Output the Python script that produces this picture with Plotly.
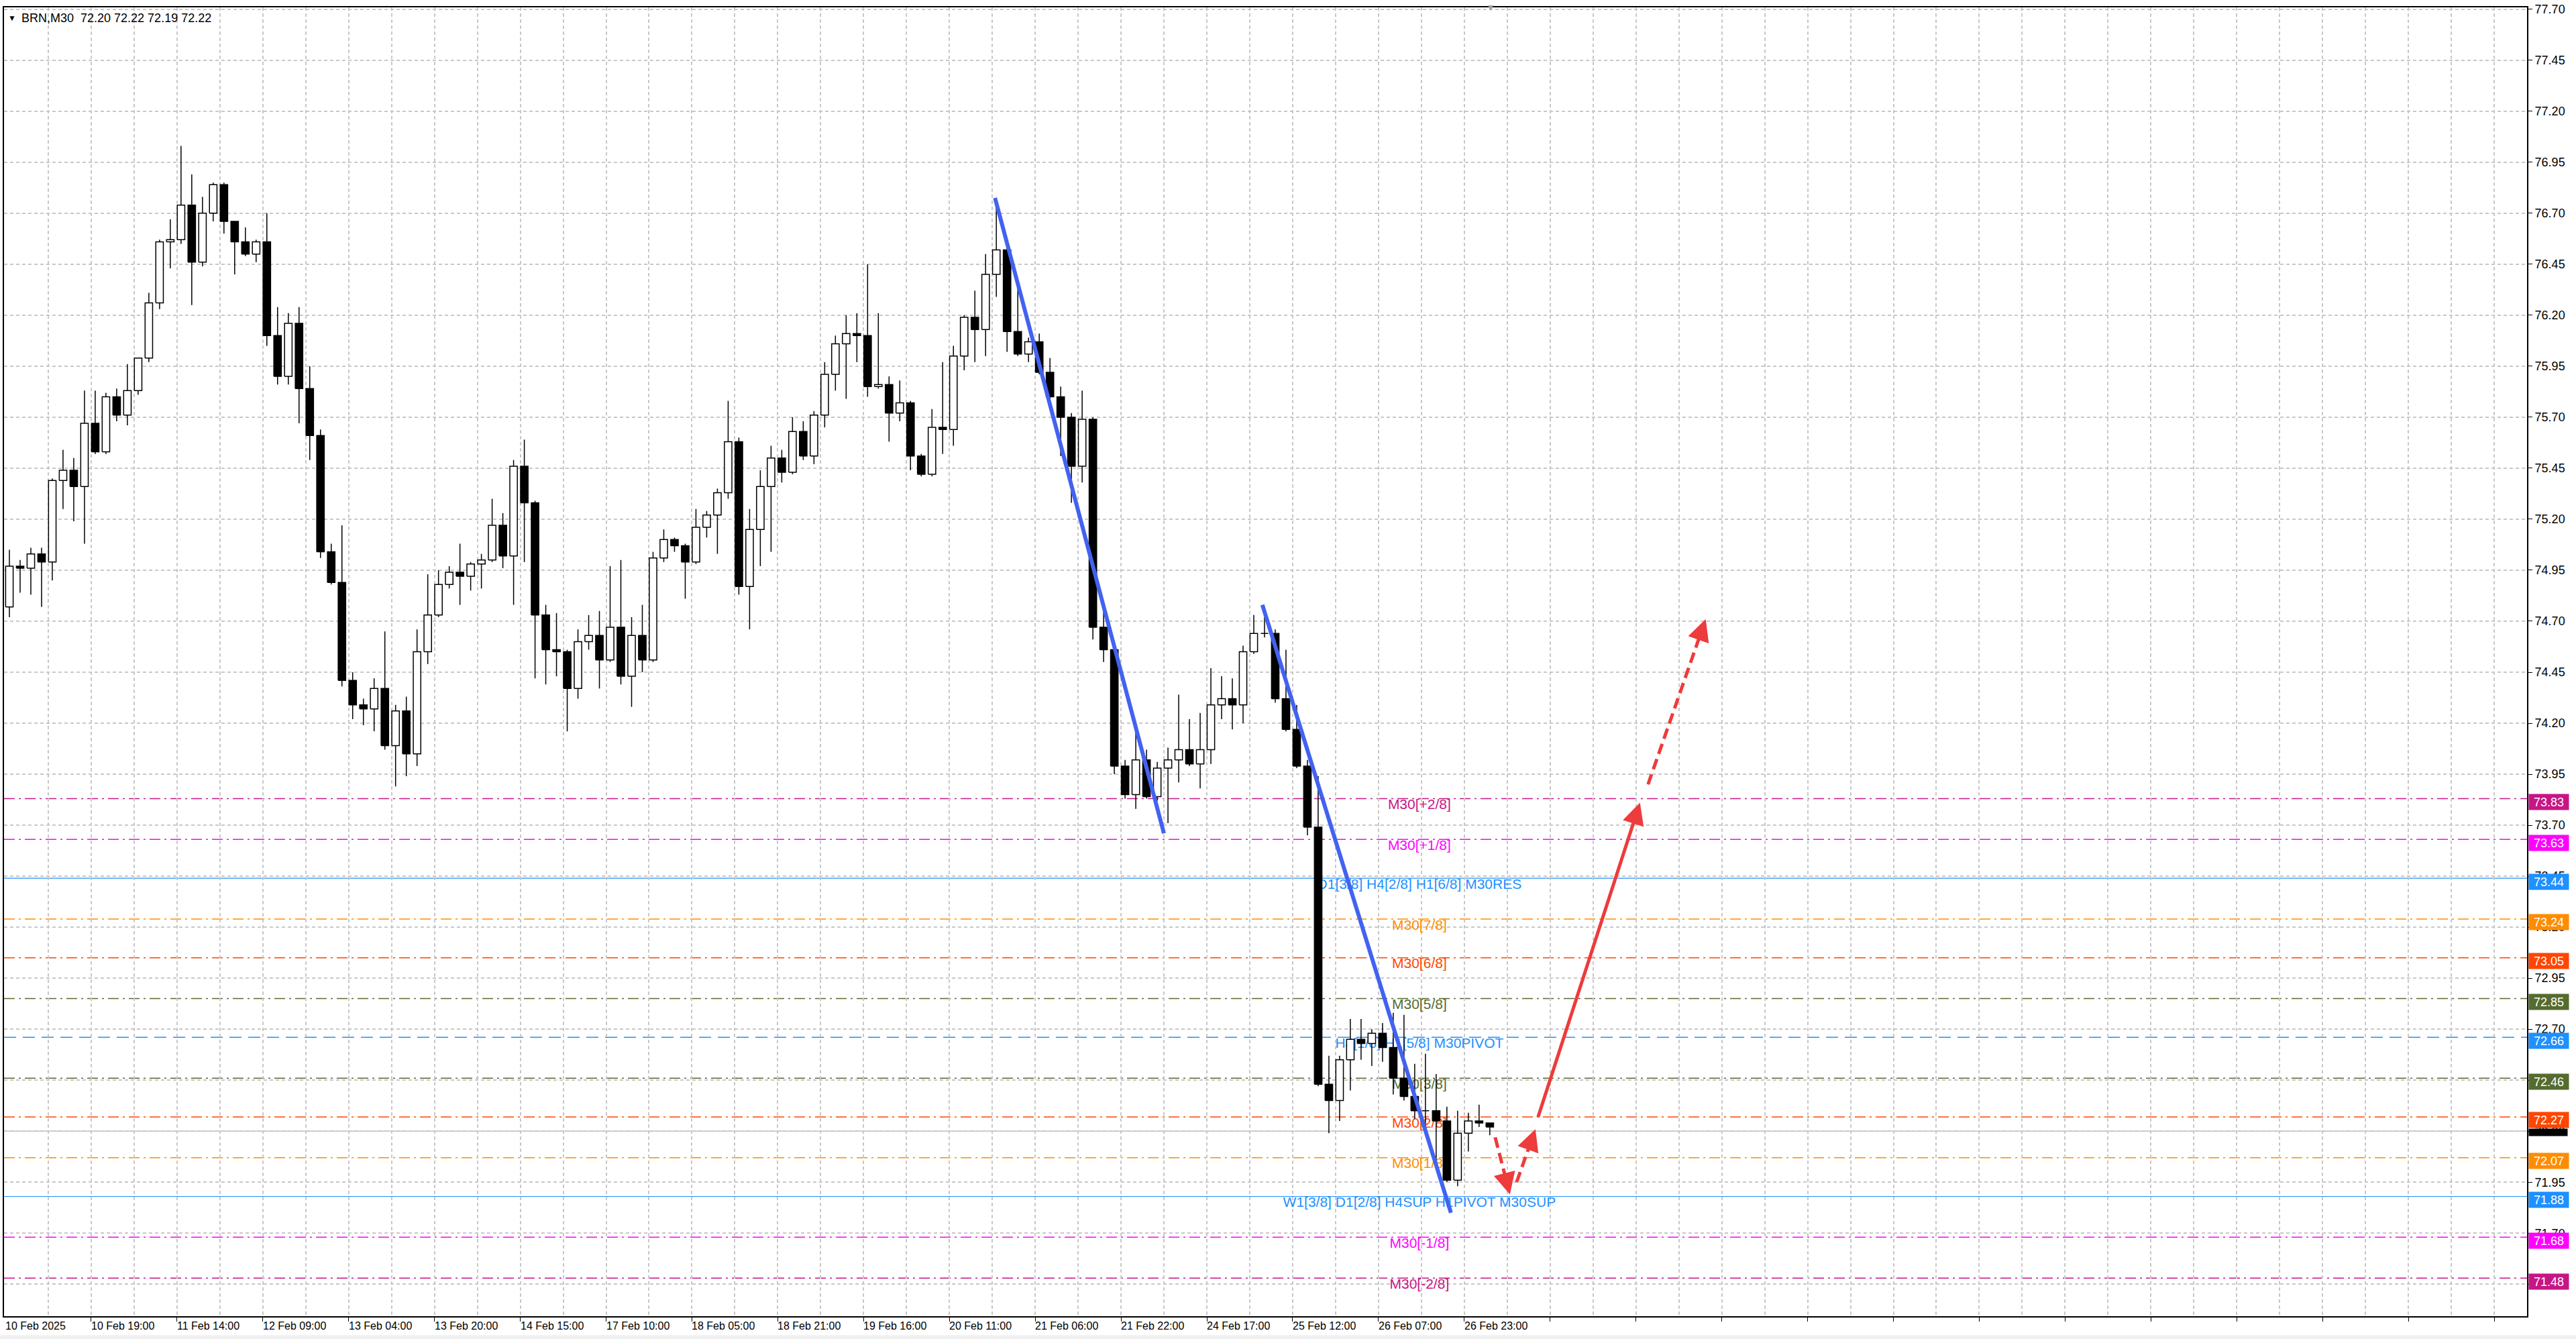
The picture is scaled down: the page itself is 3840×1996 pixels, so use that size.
import plotly.graph_objects as go

# BRN M30 chart - candles, grouped by 2 hours (4 M30 bars each)

title_text = "BRN,M30  72.20 72.22 72.19 72.22"

opens = [74.77, 74.97, 74.96, 75.03, 74.99, 75.39, 75.44, 75.36, 75.67, 75.53,
         75.80, 75.71, 75.83, 75.99, 76.26, 76.56, 76.57, 76.74, 76.46, 76.70,
         76.84, 76.66, 76.56, 76.50, 76.56, 76.10, 75.90, 76.16, 75.84, 75.61,
         75.04, 74.89, 74.41, 74.29, 74.27, 74.37, 74.09, 74.26, 74.05, 74.55,
         74.73, 74.88, 74.94, 74.92, 74.98, 75.00, 75.17, 75.02, 75.46, 75.28,
         74.73, 74.56, 74.55, 74.37, 74.60, 74.63, 74.51, 74.67, 74.43, 74.63,
         74.51, 75.01, 75.10, 75.07, 74.99, 75.16, 75.22, 75.33, 75.58, 74.87,
         75.15, 75.36, 75.50, 75.43, 75.63, 75.51, 75.71, 75.91, 76.06, 76.11,
         76.10, 75.85, 75.86, 75.72, 75.77, 75.51, 75.42, 75.65, 75.64, 76.00,
         76.19, 76.13, 76.40, 76.52, 76.12, 76.01, 76.07, 75.92, 75.80, 75.70,
         75.46, 75.69, 74.67, 74.56, 73.99, 73.85, 74.02, 73.84, 73.98, 74.02,
         74.07, 74.00, 74.07, 74.29, 74.32, 74.29, 74.55, 74.64, 74.64, 74.32,
         74.17, 73.99, 73.69, 72.43, 72.35, 72.55, 72.65, 72.63, 72.68, 72.61,
         72.46, 72.37, 72.30, 72.30, 72.25, 71.96, 72.19, 72.25, 72.24]
highs = [75.05, 75.00, 75.06, 75.06, 75.40, 75.54, 75.50, 75.83, 75.83, 75.82,
         75.84, 75.96, 75.99, 76.31, 76.57, 76.67, 77.03, 76.89, 76.78, 76.85,
         76.85, 76.66, 76.63, 76.57, 76.70, 76.24, 76.21, 76.24, 75.95, 75.64,
         75.08, 75.17, 74.45, 74.32, 74.42, 74.65, 74.29, 74.33, 74.66, 74.93,
         74.95, 74.97, 75.08, 74.99, 75.03, 75.30, 75.23, 75.49, 75.59, 75.29,
         74.78, 74.74, 74.56, 74.66, 74.73, 74.75, 74.97, 75.00, 74.72, 74.78,
         75.04, 75.15, 75.11, 75.08, 75.25, 75.24, 75.35, 75.78, 75.60, 75.25,
         75.44, 75.56, 75.54, 75.70, 75.68, 75.73, 75.97, 76.10, 76.20, 76.21,
         76.45, 76.21, 75.90, 75.88, 75.78, 75.52, 75.74, 75.97, 76.05, 76.20,
         76.32, 76.50, 76.75, 76.53, 76.34, 76.09, 76.11, 75.99, 75.85, 75.72,
         75.83, 75.70, 74.78, 74.57, 74.02, 74.19, 74.07, 74.01, 74.08, 74.34,
         74.22, 74.25, 74.47, 74.43, 74.42, 74.58, 74.73, 74.72, 74.66, 74.56,
         74.29, 74.02, 73.94, 72.57, 72.57, 72.75, 72.75, 72.70, 72.73, 72.78,
         72.77, 72.53, 72.58, 72.48, 72.32, 72.30, 72.29, 72.33, 72.24]
lows = [74.72, 74.84, 74.83, 74.77, 74.90, 75.25, 75.19, 75.08, 75.52, 75.52,
        75.68, 75.66, 75.81, 75.97, 76.23, 76.43, 76.55, 76.25, 76.44, 76.66,
        76.60, 76.40, 76.49, 76.46, 76.05, 75.86, 75.86, 75.67, 75.49, 75.01,
        74.88, 74.38, 74.22, 74.19, 74.16, 74.07, 73.89, 73.94, 73.99, 74.49,
        74.72, 74.86, 74.78, 74.85, 74.86, 74.99, 74.96, 74.78, 74.99, 74.42,
        74.39, 74.43, 74.16, 74.32, 74.56, 74.37, 74.50, 74.39, 74.28, 74.45,
        74.50, 74.99, 75.04, 74.81, 74.98, 75.11, 75.03, 75.30, 74.83, 74.66,
        74.97, 75.04, 75.38, 75.42, 75.49, 75.47, 75.65, 75.83, 75.79, 75.97,
        75.80, 75.84, 75.58, 75.68, 75.44, 75.41, 75.41, 75.52, 75.56, 75.93,
        75.97, 76.00, 76.29, 76.02, 76.00, 75.97, 75.91, 75.79, 75.51, 75.28,
        75.38, 74.61, 74.50, 73.95, 73.83, 73.78, 73.83, 73.82, 73.71, 73.91,
        73.99, 73.88, 74.00, 74.22, 74.17, 74.20, 74.54, 74.62, 74.30, 74.16,
        73.98, 73.65, 72.42, 72.19, 72.25, 72.40, 72.55, 72.52, 72.54, 72.38,
        72.35, 72.26, 72.20, 72.05, 71.95, 71.93, 72.10, 72.22, 72.18]
closes = [74.97, 74.96, 75.03, 74.99, 75.39, 75.44, 75.36, 75.67, 75.53, 75.80,
          75.71, 75.83, 75.99, 76.26, 76.56, 76.57, 76.74, 76.46, 76.70, 76.84,
          76.66, 76.56, 76.50, 76.56, 76.10, 75.90, 76.16, 75.84, 75.61, 75.04,
          74.89, 74.41, 74.29, 74.27, 74.37, 74.09, 74.26, 74.05, 74.55, 74.73,
          74.88, 74.94, 74.92, 74.98, 75.00, 75.17, 75.02, 75.46, 75.28, 74.73,
          74.56, 74.55, 74.37, 74.60, 74.63, 74.51, 74.67, 74.43, 74.63, 74.51,
          75.01, 75.10, 75.07, 74.99, 75.16, 75.22, 75.33, 75.58, 74.87, 75.15,
          75.36, 75.50, 75.43, 75.63, 75.51, 75.71, 75.91, 76.06, 76.11, 76.10,
          75.85, 75.86, 75.72, 75.77, 75.51, 75.42, 75.65, 75.64, 76.00, 76.19,
          76.13, 76.40, 76.52, 76.12, 76.01, 76.07, 75.92, 75.80, 75.70, 75.46,
          75.69, 74.67, 74.56, 73.99, 73.85, 74.02, 73.84, 73.98, 74.02, 74.07,
          74.00, 74.07, 74.29, 74.32, 74.29, 74.55, 74.64, 74.64, 74.32, 74.17,
          73.99, 73.69, 72.43, 72.35, 72.55, 72.65, 72.63, 72.68, 72.61, 72.46,
          72.37, 72.30, 72.30, 72.25, 71.96, 72.19, 72.25, 72.24, 72.22]

# one label every 32 M30 bars
time_labels = ["10 Feb 2025", "10 Feb 19:00", "11 Feb 14:00", "12 Feb 09:00", "13 Feb 04:00",
               "13 Feb 20:00", "14 Feb 15:00", "17 Feb 10:00", "18 Feb 05:00", "18 Feb 21:00",
               "19 Feb 16:00", "20 Feb 11:00", "21 Feb 06:00", "21 Feb 22:00", "24 Feb 17:00",
               "25 Feb 12:00", "26 Feb 07:00", "26 Feb 23:00"]

level_prices = [73.83, 73.63, 73.44, 73.24, 73.05, 72.85, 72.66, 72.46, 72.27, 72.07, 71.88, 71.68, 71.48]
level_names = ["M30[+2/8]", "M30[+1/8]", "D1[3/8] H4[2/8] H1[6/8] M30RES", "M30[7/8]", "M30[6/8]",
               "M30[5/8]", "H4[1/8] H1[5/8] M30PIVOT", "M30[3/8]", "M30[2/8]", "M30[1/8]",
               "W1[3/8] D1[2/8] H4SUP H1PIVOT M30SUP", "M30[-1/8]", "M30[-2/8]"]
level_colors = ["#C71585", "#FF00FF", "#1E90FF", "#FF8C00", "#FF4500", "#556B2F", "#1E90FF",
                "#556B2F", "#FF4500", "#FF8C00", "#1E90FF", "#FF00FF", "#C71585"]
level_styles = ["dashdot", "dashdot", "solid", "dashdot", "dashdot", "dashdot", "dash",
                "dashdot", "dashdot", "dashdot", "solid", "dashdot", "dashdot"]

bid_price = 72.20

# blue trend lines (bar index, price)
trend_a_x = [369, 432]
trend_a_y = [76.775, 73.66]
trend_b_x = [468.7, 539]
trend_b_y = [74.78, 71.80]

# red forecast arrows: start x, start y, tip x, tip y, dashed
arrows = [
    (555.5, 72.17, 561.0, 71.89, True),
    (563.5, 71.95, 570.5, 72.21, True),
    (571.5, 72.27, 609.5, 73.81, False),
    (612.5, 73.90, 634.0, 74.71, True),
]

PX_PER_BAR = 4.0
PX_PER_PRICE = 305.2
RED = "#EE3B3B"
BLUE = "#4262F0"
FONT = "Liberation Sans, Arial, sans-serif"

fig = go.Figure()

# level captions first so the candles sit on top of them
fig.add_trace(go.Scatter(
    x=[527.25] * len(level_prices), y=level_prices, mode="text", text=level_names,
    textposition="bottom center", textfont=dict(family=FONT, size=21, color=level_colors),
    hoverinfo="skip"))

# candles: wicks, then bodies
centers = [4 * i + 1.5 for i in range(len(opens))]
half = 1.4
wx, wy = [], []
up_x, up_y, dn_x, dn_y = [], [], [], []
for c, o, h, l, cl in zip(centers, opens, highs, lows, closes):
    wx += [c, c, None]
    wy += [l, h, None]
    lo, hi = min(o, cl), max(o, cl)
    bx = [c - half, c + half, c + half, c - half, c - half, None]
    by = [lo, lo, hi, hi, lo, None]
    if cl >= o:
        up_x += bx
        up_y += by
    else:
        dn_x += bx
        dn_y += by

fig.add_trace(go.Scatter(x=wx, y=wy, mode="lines", line=dict(color="black", width=1.5),
                         hoverinfo="skip"))
fig.add_trace(go.Scatter(x=up_x, y=up_y, mode="lines", fill="toself", fillcolor="white",
                         line=dict(color="black", width=1.5), hoverinfo="skip"))
fig.add_trace(go.Scatter(x=dn_x, y=dn_y, mode="lines", fill="toself", fillcolor="black",
                         line=dict(color="black", width=1.5), hoverinfo="skip"))

# trend lines
for tx, ty in [(trend_a_x, trend_a_y), (trend_b_x, trend_b_y)]:
    fig.add_trace(go.Scatter(x=tx, y=ty, mode="lines", line=dict(color=BLUE, width=6),
                             hoverinfo="skip"))

annotations = []

# forecast arrows
for x0, y0, x1, y1, dashed in arrows:
    dx = (x1 - x0) * PX_PER_BAR
    dy = (y1 - y0) * PX_PER_PRICE
    length = (dx * dx + dy * dy) ** 0.5
    back = 14.0 / length
    tail_x = x1 - (x1 - x0) * back
    tail_y = y1 - (y1 - y0) * back
    fig.add_trace(go.Scatter(x=[x0, tail_x], y=[y0, tail_y], mode="lines",
                             line=dict(color=RED, width=5, dash="16px,8px" if dashed else "solid"),
                             hoverinfo="skip"))
    annotations.append(dict(x=x1, y=y1, ax=tail_x, ay=tail_y, xref="x", yref="y", axref="x", ayref="y",
                            text="", showarrow=True, arrowhead=2, arrowsize=1.3, arrowwidth=5,
                            arrowcolor=RED))

# horizontal levels
shapes = []
dash_map = {"dashdot": "16px,6px,3px,6px", "dash": "18px,10px", "solid": "solid"}
for p, col, st in zip(level_prices, level_colors, level_styles):
    shapes.append(dict(type="line", xref="paper", x0=0, x1=1, yref="y", y0=p, y1=p, layer="below",
                       line=dict(color=col, width=1.5 if st != "solid" else 1.2, dash=dash_map[st])))
shapes.append(dict(type="line", xref="paper", x0=0, x1=1, yref="y", y0=bid_price, y1=bid_price,
                   layer="below", line=dict(color="#B4B4B4", width=1.2)))
shapes.append(dict(type="rect", xref="paper", yref="paper", x0=-0.002, x1=1.02, y0=-0.0176, y1=-0.0145,
                   fillcolor="#F0F0F0", line=dict(width=0), layer="below"))

# price labels on the right scale (MT4 draws them a few px under the line)
annotations.append(dict(xref="paper", x=1, xanchor="left", xshift=2, yref="y", y=bid_price,
                        yanchor="middle", yshift=-2, text="", showarrow=False, bgcolor="black",
                        width=57, height=10, borderpad=0))
for p, col in zip(level_prices, level_colors):
    annotations.append(dict(xref="paper", x=1, xanchor="left", xshift=2, yref="y", y=p, yanchor="middle",
                            yshift=-5, text=f"{p:.2f}", showarrow=False, bgcolor=col, width=57, height=21,
                            borderpad=1, font=dict(family=FONT, size=18, color="white")))

# time labels along the bottom
for j, lab in enumerate(time_labels):
    annotations.append(dict(xref="x", x=32 * j - 0.5, xanchor="left", yref="paper", y=0, yanchor="top",
                            yshift=-4, text=lab, showarrow=False,
                            font=dict(family=FONT, size=16, color="black")))

# header
annotations.append(dict(xref="paper", x=0, xanchor="left", xshift=4, yref="paper", y=1, yanchor="middle",
                        yshift=-16, text="▼", showarrow=False, font=dict(family=FONT, size=12, color="black")))
annotations.append(dict(xref="paper", x=0, xanchor="left", xshift=24, yref="paper", y=1, yanchor="middle",
                        yshift=-16, text=title_text, showarrow=False,
                        font=dict(family=FONT, size=18, color="black")))
annotations.append(dict(xref="x", x=553.75, yref="paper", y=1, yanchor="middle", text="▼",
                        showarrow=False, font=dict(family=FONT, size=14, color="#A0A0A0")))

y_ticks = [round(71.45 + 0.25 * k, 2) for k in range(26)]
grid = dict(gridcolor="#C8C8C8", gridwidth=1.5, griddash="5px,4px")

fig.update_layout(
    width=3840, height=1996,
    margin=dict(l=4, r=73, t=4, b=34),
    plot_bgcolor="white", paper_bgcolor="white",
    showlegend=False,
    shapes=shapes,
    annotations=annotations,
    xaxis=dict(range=[-0.5, 940.25], tickvals=[32 * k for k in range(1, 30)], showticklabels=False,
               ticks="outside", ticklen=6, tickcolor="black", showgrid=True, zeroline=False,
               showline=True, linecolor="black", linewidth=2, mirror=True,
               minor=dict(tickvals=[16 + 32 * k for k in range(0, 30)], showgrid=True, ticks="", **grid),
               **grid),
    yaxis=dict(range=[71.293, 77.709], side="right", tickvals=y_ticks,
               ticktext=[f"{v:.2f}" for v in y_ticks], ticks="outside", ticklen=6, tickcolor="black",
               tickfont=dict(family=FONT, size=18, color="black"), ticklabeloverflow="allow",
               showgrid=True, zeroline=False,
               showline=True, linecolor="black", linewidth=2, mirror=True, **grid),
)

fig.write_html("out.html", config={"displayModeBar": False},
               post_script="document.body.style.margin='0';")
